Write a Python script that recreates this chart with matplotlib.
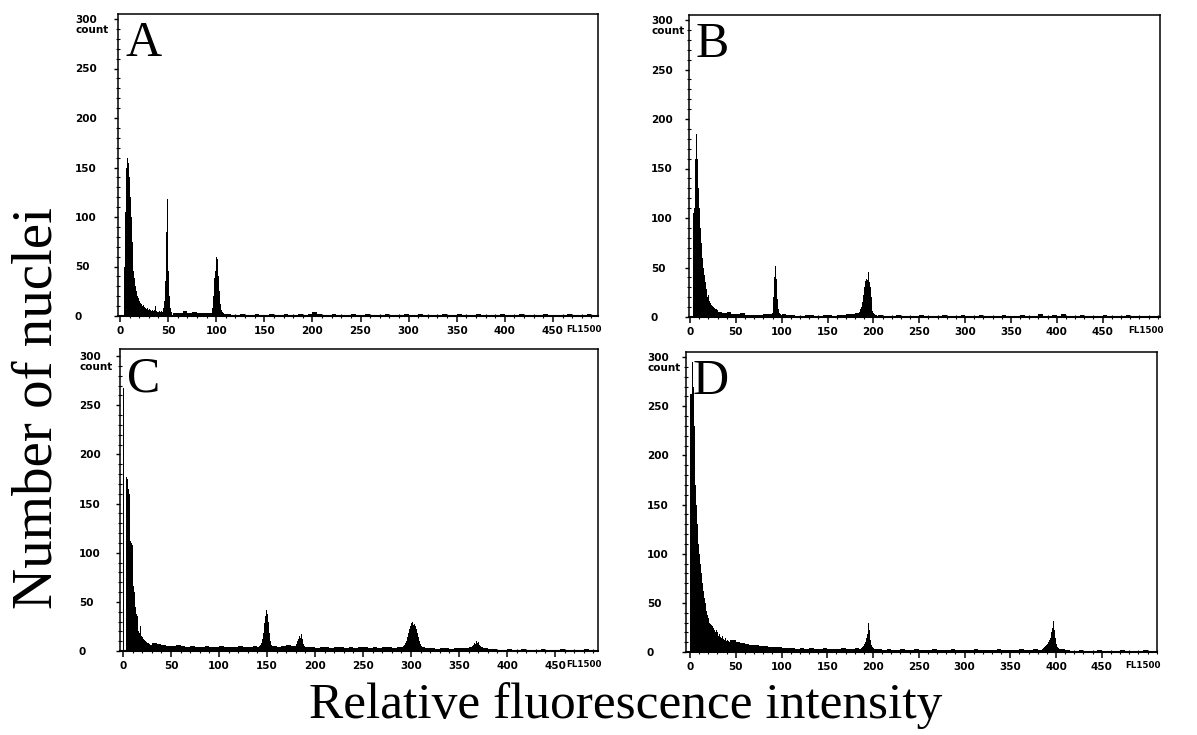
import numpy as np
import matplotlib
matplotlib.use("Agg")
import matplotlib.pyplot as plt
from matplotlib.ticker import MultipleLocator

W, H = 1197, 735

# counts per channel
# background: 5-channel bins from 0 to 505
a_bg = [0] * 11 + [3, 3, 5, 3, 4, 3, 3, 3] + [0, 0] + \
    [2, 2, 1, 1, 2, 1, 1, 2, 1, 1, 2, 1, 1, 2, 1, 1, 2, 1, 2] + [4, 2] + \
    [1, 1, 2, 1, 1, 1, 2, 1, 1, 2, 1, 1, 1, 2, 1, 1, 1, 2] + \
    [1, 1, 2, 1, 1, 1, 1, 2, 1, 1, 2, 1, 1, 1, 2, 1, 1, 1, 1, 2] + \
    [1, 1, 1, 2, 1, 1, 1, 1, 2, 1, 1, 1, 1, 2, 1, 1, 1, 2, 1, 1, 1]
a_seg1_start = 3
a_seg1 = [0, 50, 105, 150, 160, 155, 140, 120, 100, 75, 55, 45, 38, 30, 25, 20,
          18, 15, 13, 12, 10, 11, 9, 8, 7, 8, 6, 7, 6, 5, 6, 5, 6, 10, 5, 4, 3,
          4, 5, 4, 5, 4, 8, 15, 35, 85, 118, 45, 20, 8, 4]
a_seg2_start = 95
a_seg2 = [3, 8, 20, 38, 45, 60, 58, 40, 25, 12, 6, 4, 3]

b_bg = [0] * 6 + [5, 4, 5, 3, 3, 4, 2, 2, 2, 2, 3, 3] + [0, 0] + \
    [3, 2, 2, 1, 1, 2, 2, 1, 1, 2, 2, 1, 2, 2, 3, 3, 4] + [0, 0, 0, 0] + \
    [2, 1, 1, 1, 2, 1, 1, 1, 1, 2, 1, 1, 1, 1, 2, 1, 1, 1, 2, 1] + \
    [1, 1, 2, 1, 1, 1, 1, 2, 1, 1, 1, 2, 1, 1, 1, 3, 1, 1, 2, 1] + \
    [3, 1, 1, 1, 2, 1, 1, 1, 1, 2, 1, 1, 1, 1, 2, 1, 1, 1, 1, 1]
b_seg1_start = 2
b_seg1 = [0, 105, 110, 160, 190, 185, 160, 130, 110, 90, 75, 60, 50, 42, 35, 28,
          24, 20, 22, 16, 14, 12, 11, 10, 9, 8, 8, 7, 6]
b_seg2_start = 88
b_seg2 = [3, 4, 8, 20, 40, 52, 38, 18, 8, 4, 3, 2, 2]
b_seg3_start = 184
b_seg3 = [5, 8, 6, 10, 15, 22, 30, 36, 38, 37, 45, 35, 30, 20, 12, 6, 4, 3, 2, 2, 1]

c_bg = [0] * 6 + \
    [8, 7, 6, 5, 5, 6, 5, 4, 5, 4, 4, 5, 4, 4, 5, 4, 4, 4, 5, 4, 4, 5] + \
    [4, 4, 4] + [5, 4, 5, 6, 5, 4, 4] + \
    [4, 4, 3, 4, 4, 3, 4, 4, 3, 4, 3, 4, 4, 3, 4, 3, 4, 4, 3, 4] + \
    [4, 4, 4, 4, 4] + [3, 3, 2, 3, 3, 2, 3, 3, 3, 4] + [4, 4, 3] + \
    [2, 2, 1, 1, 2, 1, 1, 2, 1, 1, 1, 2, 1, 1, 1, 2, 1, 1, 1, 1, 2, 1, 1, 1, 1]
c_seg0_start = 0
c_seg0 = [268]
c_seg1_start = 2
c_seg1 = [0, 177, 175, 165, 160, 112, 110, 108, 66, 60, 47, 45, 38, 36, 20, 18,
          25, 15, 14, 12, 11, 10, 9, 8, 8, 7, 6, 6, 5]
c_seg2_start = 142
c_seg2 = [5, 6, 8, 12, 18, 28, 36, 42, 38, 30, 18, 10, 6, 5]
c_seg3_start = 179
c_seg3 = [5, 7, 10, 12, 15, 13, 17, 12, 9, 7, 5]
c_seg4_start = 292
c_seg4 = [5, 6, 8, 10, 14, 18, 22, 25, 28, 30, 26, 27, 25, 22, 18, 14, 10, 7, 5, 4]
c_seg5_start = 363
c_seg5 = [4, 5, 6, 8, 7, 10, 8, 9, 6, 5, 4]

d_bg = [0] * 9 + [12, 10, 9, 8, 7, 7, 6, 6, 5, 5, 5] + \
    [4, 4, 4, 3, 4, 3, 4, 3, 3, 4, 3, 3, 3, 4, 3, 3, 4] + [3, 3, 3, 3] + \
    [3, 2, 3, 2, 2, 3, 2, 2, 3, 2, 2, 2, 3, 2, 2, 2, 3, 2, 2, 2, 2, 3, 2, 2,
     2, 2, 3, 2, 2, 2, 2, 3, 2, 2, 3, 2] + [3, 3, 3, 3, 3] + \
    [2, 1, 1, 2, 1, 1, 1, 2, 1, 1, 1, 1, 2, 1, 1, 1, 1, 2, 1]
d_seg1_start = 0
d_seg1 = [262, 262, 295, 270, 230, 200, 170, 150, 130, 110, 100, 90, 80, 70, 62,
          55, 50, 45, 42, 38, 35, 30, 28, 27, 26, 24, 22, 20, 22, 18, 20, 16, 18,
          15, 14, 16, 13, 12, 14, 11, 12, 10, 11, 10, 12]
d_seg2_start = 187
d_seg2 = [4, 5, 6, 8, 10, 14, 18, 24, 29, 22, 12, 7, 5, 4]
d_seg3_start = 386
d_seg3 = [4, 5, 6, 7, 8, 10, 12, 14, 16, 20, 24, 32, 22, 14, 8, 5, 4]

bin_edges = np.arange(0, 506, 5)
x_ticks = list(range(0, 451, 50))
y_ticks = list(range(0, 301, 50))

# letter, background, peaks, box in px (left, right, top, zero line),
# x of channel 0 in px, px per channel, px per count, y label offset px
panels = [
    ("A", a_bg, [(a_seg1_start, a_seg1), (a_seg2_start, a_seg2)],
     (118, 598, 14, 316), 120, 0.962, 0.99, 42),
    ("B", b_bg, [(b_seg1_start, b_seg1), (b_seg2_start, b_seg2), (b_seg3_start, b_seg3)],
     (689, 1160, 15, 317), 690, 0.917, 0.99, 37),
    ("C", c_bg, [(c_seg0_start, c_seg0), (c_seg1_start, c_seg1), (c_seg2_start, c_seg2),
                 (c_seg3_start, c_seg3), (c_seg4_start, c_seg4), (c_seg5_start, c_seg5)],
     (120, 598, 349, 651), 123, 0.960, 0.983, 40),
    ("D", d_bg, [(d_seg1_start, d_seg1), (d_seg2_start, d_seg2), (d_seg3_start, d_seg3)],
     (686, 1157, 352, 652), 690, 0.915, 0.983, 38),
]

tick_font = dict(family="DejaVu Sans", weight="bold", size=7.5)
serif = "Liberation Serif"

fig = plt.figure(figsize=(W / 100, H / 100), dpi=100)

for letter, bg, segs, box, zero_px, xs, ys, ylab_off in panels:
    l, r, t, b = box
    ax = fig.add_axes([l / W, 1 - b / H, (r - l) / W, (b - t) / H])

    ax.stairs(bg, bin_edges, fill=True, color="black", linewidth=0.3)
    for start, vals in segs:
        edges = np.arange(start, start + len(vals) + 1)
        ax.stairs(vals, edges, fill=True, color="black", linewidth=0.4)

    ax.set_xlim(-(zero_px - l) / xs, (r - zero_px) / xs)
    ax.set_ylim(0, (b - t) / ys)

    for side in ["top", "right", "left"]:
        ax.spines[side].set_linewidth(1.1)
    ax.spines["bottom"].set_linewidth(1.5)

    ax.set_xticks(x_ticks)
    ax.set_xticklabels([str(v) for v in x_ticks], fontdict=tick_font)
    ax.xaxis.set_minor_locator(MultipleLocator(10))
    ax.set_yticks(y_ticks)
    ax.set_yticklabels([str(v) for v in y_ticks], fontdict=tick_font)
    ax.yaxis.set_minor_locator(MultipleLocator(10))

    ax.tick_params(axis="x", which="major", direction="out", length=4, width=1.1, pad=3)
    ax.tick_params(axis="x", which="minor", direction="inout", length=3, width=0.8)
    off_pt = ylab_off * 0.72
    ax.tick_params(axis="y", which="major", direction="out", length=3, width=1.0,
                   pad=off_pt - 2.2)
    ax.tick_params(axis="y", which="minor", direction="inout", length=3, width=0.8)
    for lab in ax.get_yticklabels():
        lab.set_horizontalalignment("left")

    ax.annotate("count", xy=(0, 300), xycoords=("axes fraction", "data"),
                xytext=(-off_pt, -4), textcoords="offset points",
                ha="left", va="top", **tick_font)
    ax.annotate("FL1500", xy=(1, 0), xycoords="axes fraction",
                xytext=(3, -10), textcoords="offset points",
                ha="right", va="center", family="DejaVu Sans", weight="bold",
                size=6.3)

    ax.text(7 / (r - l), 1 - 42 / (b - t), letter, transform=ax.transAxes,
            ha="left", va="baseline", family=serif, fontsize=36)

fig.text(0.031, 0.445, "Number of nuclei", rotation=90, ha="center", va="center",
         family=serif, fontsize=41)
fig.text(0.523, 0.023, "Relative fluorescence intensity", ha="center", va="baseline",
         family=serif, fontsize=37)

fig.savefig("out.png", dpi=100)
